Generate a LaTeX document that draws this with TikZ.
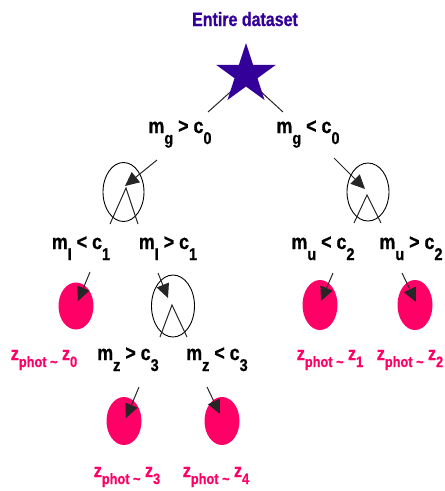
\documentclass[tikz,border=0pt]{standalone}
\usepackage{fontspec}
\setmainfont{Liberation Sans}
\newfontfamily\tfont[FakeStretch=0.82, BoldFeatures={FakeBold=0.6}]{Liberation Sans}
\newfontfamily\lfont[FakeStretch=0.85, BoldFeatures={FakeBold=0.8}]{Liberation Sans}
\usetikzlibrary{shapes.geometric,arrows.meta}
\definecolor{pinkz}{RGB}{255,0,102}
\definecolor{indigo}{RGB}{51,0,153}
\newcommand\msub[1]{\raisebox{-11pt}{\fontsize{17}{17}\selectfont #1}}
\newcommand\zsub[1]{\raisebox{-7pt}{\fontsize{15}{15}\selectfont #1}}
\tikzset{
  mlab/.style={anchor=base, inner sep=0pt, font=\lfont\bfseries\fontsize{21}{21}\selectfont},
  zlab/.style={anchor=base, inner sep=0pt, text=pinkz, font=\lfont\bfseries\fontsize{19}{19}\selectfont},
  hollow/.style={ellipse, draw=black, line width=0.9pt, inner sep=0pt},
  leaf/.style={ellipse, fill=pinkz, draw=none, inner sep=0pt, minimum width=35pt, minimum height=48pt},
  conn/.style={line width=1pt, black!85},
  arr/.style={line width=1pt, black!85, -{Triangle[length=14pt,width=13pt]}},
}
\begin{document}
\begin{tikzpicture}[x=1pt,y=-1pt]
\useasboundingbox (0,0) rectangle (445,491);
% title
\node[anchor=base, inner sep=0pt, text=indigo, font=\tfont\bfseries\fontsize{19.5}{19.5}\selectfont] (title) at (245,26) {Entire dataset};
% level 1 labels
\node[mlab] (lg) at (180,133) {m\msub{g} > c\msub{0}};
\node[mlab] (rg) at (308,133) {m\msub{g} < c\msub{0}};
% star lines
\coordinate (sl) at (208,112);
\coordinate (sr) at (283,112);
\coordinate (sc) at (246,78);
\draw[conn] (sl) -- (sc);
\draw[conn] (sr) -- (sc);
\node[star, star points=5, star point ratio=2.618, fill=indigo, minimum size=63pt, inner sep=0pt] (star) at (246,74.5) {};
% hollow node 1
\node[hollow, minimum width=41pt, minimum height=59pt] (h1) at (123.5,192) {};
\coordinate (h1s) at (157,160);
\coordinate (h1t) at (125,186);
\coordinate (h1a) at (126,188);
\coordinate (h1l) at (110,224);
\coordinate (h1r) at (138,224);
\draw[arr] (h1s) -- (h1t);
\draw[conn] (h1l) -- (h1a) -- (h1r);
% hollow node 2
\node[hollow, minimum width=42pt, minimum height=58pt] (h2) at (368,192) {};
\coordinate (h2s) at (334,158);
\coordinate (h2t) at (365,189);
\coordinate (h2a) at (367,195);
\coordinate (h2l) at (354,223);
\coordinate (h2r) at (381,223);
\draw[arr] (h2s) -- (h2t);
\draw[conn] (h2l) -- (h2a) -- (h2r);
% level 2 labels
\node[mlab] (l1) at (81,249) {m\msub{I} < c\msub{1}};
\node[mlab] (l2) at (168,249) {m\msub{I} > c\msub{1}};
\node[mlab] (l3) at (323,249) {m\msub{u} < c\msub{2}};
\node[mlab] (l4) at (411,249) {m\msub{u} > c\msub{2}};
% hollow node 3
\node[hollow, minimum width=43pt, minimum height=62pt] (h3) at (173,306) {};
\coordinate (h3s) at (158,273);
\coordinate (h3t) at (168,298);
\coordinate (h3a) at (172,305);
\coordinate (h3l) at (160,337);
\coordinate (h3r) at (187,337);
\draw[arr] (h3s) -- (h3t);
\draw[conn] (h3l) -- (h3a) -- (h3r);
% leaves level 2
\node[leaf, minimum height=47pt] (p0) at (76,306) {};
\node[leaf, minimum height=50pt] (p1) at (320,305) {};
\node[leaf, minimum height=50pt] (p2) at (415,305) {};
\coordinate (p0s) at (90,272);
\coordinate (p0t) at (78,301);
\coordinate (p1s) at (333,273);
\coordinate (p1t) at (321,301);
\coordinate (p2s) at (402,273);
\coordinate (p2t) at (416,302);
\draw[arr] (p0s) -- (p0t);
\draw[arr] (p1s) -- (p1t);
\draw[arr] (p2s) -- (p2t);
% level 3 labels
\node[zlab] (z0) at (44,360) {z\zsub{phot \textasciitilde} z\zsub{0}};
\node[mlab] (l5) at (128,360) {m\msub{z} > c\msub{3}};
\node[mlab] (l6) at (217,360) {m\msub{z} < c\msub{3}};
\node[zlab] (z1) at (330,360) {z\zsub{phot \textasciitilde} z\zsub{1}};
\node[zlab] (z2) at (410,360) {z\zsub{phot \textasciitilde} z\zsub{2}};
% leaves level 3
\node[leaf] (p3) at (124,421) {};
\node[leaf] (p4) at (222,421) {};
\coordinate (p3s) at (139,387);
\coordinate (p3t) at (126,418);
\coordinate (p4s) at (207,387);
\coordinate (p4t) at (220,414);
\draw[arr] (p3s) -- (p3t);
\draw[arr] (p4s) -- (p4t);
% bottom labels
\node[zlab] (z3) at (127,477) {z\zsub{phot \textasciitilde} z\zsub{3}};
\node[zlab] (z4) at (216,477) {z\zsub{phot \textasciitilde} z\zsub{4}};
\end{tikzpicture}
\end{document}
